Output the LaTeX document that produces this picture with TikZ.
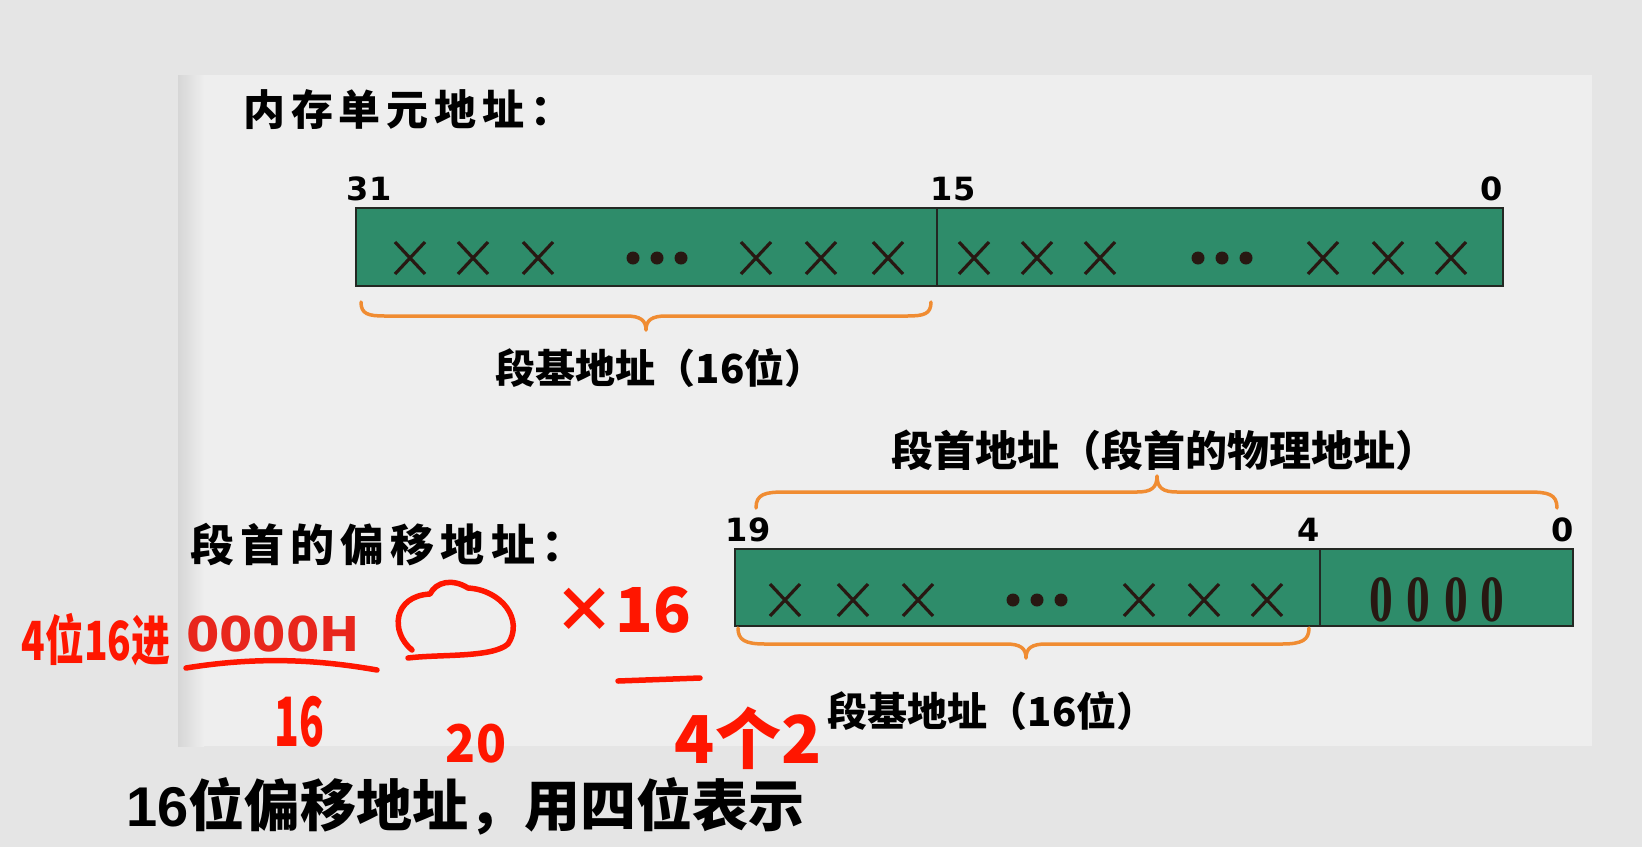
\documentclass[tikz,border=0pt]{standalone}
\usepackage{fontspec}
\newfontfamily\cjk{Noto Sans CJK SC}
\newfontfamily\dvs{DejaVu Sans}
\newfontfamily\lsans{Liberation Sans}
\newfontfamily\lserif{Liberation Serif}
\definecolor{bgout}{RGB}{229,229,229}
\definecolor{panel}{RGB}{238,238,238}
\definecolor{shadow}{RGB}{214,214,214}
\definecolor{bargreen}{RGB}{46,140,106}
\definecolor{barline}{RGB}{35,40,35}
\definecolor{xcol}{RGB}{40,24,18}
\definecolor{braceor}{RGB}{240,140,50}
\definecolor{redtxt}{RGB}{232,38,28}
\definecolor{handred}{RGB}{255,22,0}
\newcommand\bitcross[2]{\draw[xline] (#1-15,#2-16) -- (#1+15,#2+16) (#1-15,#2+16) -- (#1+15,#2-16);}
\newcommand\bitdots[2]{\fill[xcol] (#1-24,#2) circle[radius=6.5pt] (#1,#2) circle[radius=6.5pt] (#1+24,#2) circle[radius=6.5pt];}
\begin{document}
\begin{tikzpicture}[x=1pt,y=-1pt,
  bitbar/.style={draw=barline, line width=2pt, fill=bargreen},
  divline/.style={draw=barline, line width=1.6pt},
  bitnum/.style={font=\dvs\bfseries\fontsize{32}{34}\selectfont, inner sep=0pt},
  bracepath/.style={draw=braceor, line width=3.5pt, line cap=round, line join=round},
  xline/.style={draw=xcol, line width=3.2pt},
  lbl/.style={font=\cjk\bfseries\fontsize{40}{44}\selectfont, inner sep=0pt},
  head/.style={font=\cjk\bfseries\fontsize{42}{46}\selectfont\addfontfeature{LetterSpace=14}, inner sep=0pt, anchor=west},
  zero/.style={font=\lserif\bfseries\fontsize{66}{68}\selectfont, text=xcol, inner sep=0pt, xscale=0.72},
  hand/.style={text=handred, inner sep=0pt, font=\cjk\bfseries\fontsize{44}{46}\selectfont},
  handline/.style={draw=handred, line width=5.5pt, line cap=round, line join=round}]
\useasboundingbox (0,0) rectangle (1642,847);
\fill[bgout] (0,0) rectangle (1642,847);
\fill[panel] (178,75) rectangle (1592,746);
\shade[left color=shadow, right color=panel] (178,75) rectangle (204,746);

% headings
\node[head] (h1) at (243,110) {内存单元地址：};
\node[head, font=\cjk\bfseries\fontsize{44}{48}\selectfont\addfontfeature{LetterSpace=14}] (h2) at (190,545) {段首的偏移地址：};

% top bar
\draw[bitbar] (356,208) rectangle (1503,286);
\draw[divline] (937,208) -- (937,286);
\node[bitnum] (n31) at (369,189) {31};
\node[bitnum] (n15) at (953,189) {15};
\node[bitnum] (n0a) at (1492,189) {0};
\foreach \xx in {410,473,538,756,821,888,974,1037,1100,1323,1388,1451} {\bitcross{\xx}{258}}
\bitdots{657}{258}
\bitdots{1222}{258}

% brace under top bar
\draw[bracepath] (361,302) .. controls (361,314) and (368,316) .. (385,316) -- (626,316)
  .. controls (640,316) and (646,320) .. (646,330)
  .. controls (646,320) and (652,316) .. (666,316) -- (907,316)
  .. controls (924,316) and (931,314) .. (931,302);
\node[lbl] (seg1) at (660,368) {段基地址（16位）};

% bottom
\node[lbl, font=\cjk\bfseries\fontsize{42}{46}\selectfont] (seghead) at (1164,450) {段首地址（段首的物理地址）};
\draw[bracepath] (756,508) .. controls (756,494) and (765,492) .. (785,492) -- (1137,492)
  .. controls (1151,492) and (1157,488) .. (1157,476)
  .. controls (1157,488) and (1163,492) .. (1177,492) -- (1528,492)
  .. controls (1548,492) and (1557,494) .. (1557,508);
\node[bitnum] (n19) at (748,530) {19};
\node[bitnum] (n4) at (1309,530) {4};
\node[bitnum] (n0b) at (1563,530) {0};
\draw[bitbar] (735,549) rectangle (1573,626);
\draw[divline] (1320,549) -- (1320,626);
\foreach \xx in {785,853,918,1139,1204,1267} {\bitcross{\xx}{600}}
\bitdots{1037}{600}
\foreach \xx/\nm in {1381/za,1418/zb,1456/zc,1492/zd} {\node[zero] (\nm) at (\xx,600) {0};}
\draw[bracepath] (738,628) .. controls (738,640) and (745,644) .. (765,644) -- (1006,644)
  .. controls (1020,644) and (1026,648) .. (1026,658)
  .. controls (1026,648) and (1032,644) .. (1046,644) -- (1282,644)
  .. controls (1302,644) and (1309,640) .. (1309,628);
\node[lbl] (seg2) at (992,711) {段基地址（16位）};

% red offset
\node[font=\dvs\bfseries\fontsize{48}{50}\selectfont, text=redtxt, inner sep=0pt] (off) at (273,634) {0000H};

% bottom sentence
\node[anchor=west, inner sep=0pt, font=\cjk\bfseries\fontsize{56}{60}\selectfont] (note) at (126,806) {{\lsans\bfseries 16}位偏移地址，用四位表示};

% handwriting
\node[hand, font=\cjk\bfseries\fontsize{54}{56}\selectfont, xscale=0.72] (hw1) at (96,640) {4位16进};
\draw[handline] (186,668) .. controls (260,656) and (320,660) .. (377,670);
\node[hand, font=\cjk\bfseries\fontsize{68}{70}\selectfont, xscale=0.6] (hw16) at (299,722) {16};
\draw[handline] (412,650) .. controls (390,632) and (393,596) .. (430,594)
  .. controls (436,582) and (452,578) .. (468,588)
  .. controls (502,590) and (524,620) .. (508,644)
  .. controls (492,658) and (440,654) .. (408,658);
\node[hand, font=\cjk\bfseries\fontsize{62}{64}\selectfont] (hwx) at (622,610) {×16};
\draw[handline] (618,681) -- (700,678);
\node[hand, font=\cjk\bfseries\fontsize{52}{54}\selectfont, xscale=0.95] (hw20) at (476,744) {20};
\node[hand, font=\cjk\bfseries\fontsize{66}{68}\selectfont] (hw4) at (748,738) {4个2};
\end{tikzpicture}
\end{document}
